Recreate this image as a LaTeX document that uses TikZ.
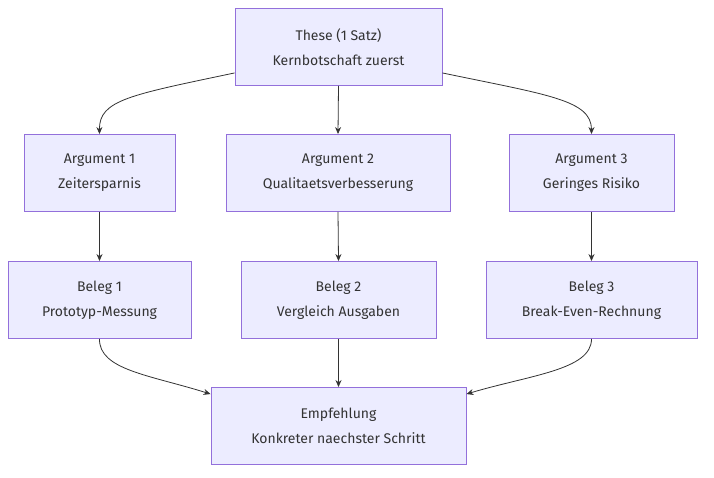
\documentclass[tikz,border=0pt]{standalone}
\usepackage{fontspec}
\setmainfont{Fira Sans}
\usetikzlibrary{arrows.meta}
\definecolor{boxfill}{HTML}{ECECFF}
\definecolor{boxline}{HTML}{9370DB}
\definecolor{txt}{HTML}{333333}
\begin{document}
\begin{tikzpicture}[x=1pt,y=1pt,
  box/.style={draw=boxline,fill=boxfill,line width=0.9pt,align=center,text=txt,
    font=\fontsize{14}{25}\selectfont,inner sep=0pt,minimum height=77pt},
  conn/.style={draw=txt,line width=0.8pt,-{Stealth[length=7pt,width=6pt]}}]
\useasboundingbox (0,0) rectangle (714,-478);
\node[box,minimum width=207pt] (t) at (338.5,-47) {These (1 Satz)\\Kernbotschaft zuerst};
\node[box,minimum width=151pt] (a1) at (99.5,-173) {Argument 1\\Zeitersparnis};
\node[box,minimum width=224pt] (a2) at (338,-173) {Argument 2\\Qualitaetsverbesserung};
\node[box,minimum width=165pt] (a3) at (591.5,-173) {Argument 3\\Geringes Risiko};
\node[box,minimum width=183pt] (b1) at (99.5,-300) {Beleg 1\\Prototyp-Messung};
\node[box,minimum width=195pt] (b2) at (338.5,-300) {Beleg 2\\Vergleich Ausgaben};
\node[box,minimum width=211pt] (b3) at (591.5,-300) {Beleg 3\\Break-Even-Rechnung};
\node[box,minimum width=255pt] (e) at (338.5,-426) {Empfehlung\\Konkreter naechster Schritt};
\draw[conn] ([yshift=13pt]t.south west) .. controls (130,-95) and (99,-100) .. (a1.north);
\draw[conn] (t.south) -- (a2.north);
\draw[conn] ([yshift=13pt]t.south east) .. controls (548,-95) and (591.5,-100) .. (a3.north);
\draw[conn] (a1.south) -- (b1.north);
\draw[conn] (a2.south) -- (b2.north);
\draw[conn] (a3.south) -- (b3.north);
\draw[conn] (b1.south) .. controls (99,-370) and (150,-375) .. ([yshift=-7pt]e.north west);
\draw[conn] (b2.south) -- (e.north);
\draw[conn] (b3.south) .. controls (591.5,-370) and (530,-375) .. ([yshift=-7pt]e.north east);
\end{tikzpicture}
\end{document}
